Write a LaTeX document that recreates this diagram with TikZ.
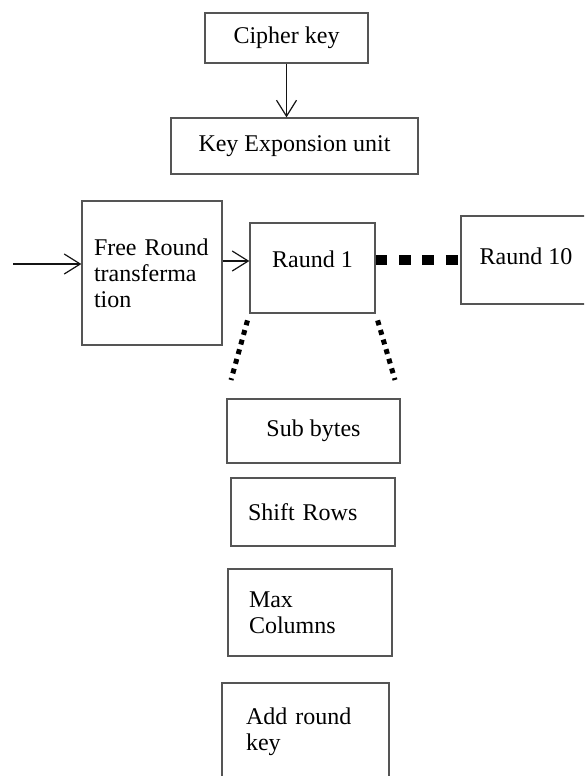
\documentclass[tikz,border=0pt]{standalone}
\usepackage{fontspec}
\setmainfont{Liberation Serif}
\usepackage{tikz}
\usetikzlibrary{arrows.meta, positioning}
\definecolor{boxgray}{RGB}{85,85,85}
\definecolor{inkblack}{RGB}{20,20,20}

\begin{document}
\begin{tikzpicture}[x=1pt, y=-1pt,
  box/.style={draw=boxgray, line width=1.3pt, rectangle, inner sep=0pt, font=\fontsize{24}{26}\selectfont},
  leftbox/.style={box, align=left},
  arr/.style={-{Straight Barb[length=16pt, width=20pt, line width=1.2pt]}, line width=1.2pt, inkblack},
  bigdash/.style={line width=10pt, dash pattern=on 11.7pt off 11.7pt},
  smalldot/.style={line width=5pt, dash pattern=on 5pt off 5pt}]
  \path[use as bounding box] (0,0) rectangle (584,776);
  \clip (0,0) rectangle (584,776);
  % key schedule
  \node[box, minimum width=163pt, minimum height=50pt] (ck) at (286.5,38) {Cipher key};
  \node[box, minimum width=247pt, minimum height=56pt] (ke) at (294.5,146) {Key Exponsion unit};
  \draw[arr] (ck.south) -- (ck.south |- ke.north);
  % rounds
  \node[leftbox, text width=116pt, inner xsep=12pt, minimum height=144pt] (fr) at (152,273) {Free Round\\transferma\\tion};
  \node[box, minimum width=125pt, minimum height=90pt, text depth=18pt] (r1) at (312.5,268) {Raund 1};
  \node[box, minimum width=130pt, minimum height=88pt, text depth=8pt] (r10) at (526,260) {Raund 10};
  \coordinate (src) at (13,264);
  \draw[arr] (src) -- (src -| fr.west);
  \draw[arr] ([yshift=12pt]fr.east) -- ([yshift=7pt]r1.west);
  \draw[bigdash] ([yshift=8pt]r1.east) -- (r10.west);
  % round steps
  \node[box, minimum width=173pt, minimum height=64pt] (sb) at (313.5,431) {Sub bytes};
  \node[leftbox, text width=130pt, inner xsep=17pt, minimum height=68pt] (sr) at (313,512) {Shift Rows};
  \node[leftbox, text width=122pt, inner xsep=21pt, minimum height=87pt] (mc) at (310,612.5) {Max\\Columns};
  \node[leftbox, text width=119pt, inner xsep=24pt, minimum height=98pt] (ak) at (305.5,732) {Add round\\key};
  \coordinate (dl) at (231,380);
  \coordinate (dr) at (395,380);
  \draw[smalldot, shorten <=7pt] (r1.south west) -- (dl);
  \draw[smalldot, shorten <=7pt] (r1.south east) -- (dr);
\end{tikzpicture}
\end{document}
